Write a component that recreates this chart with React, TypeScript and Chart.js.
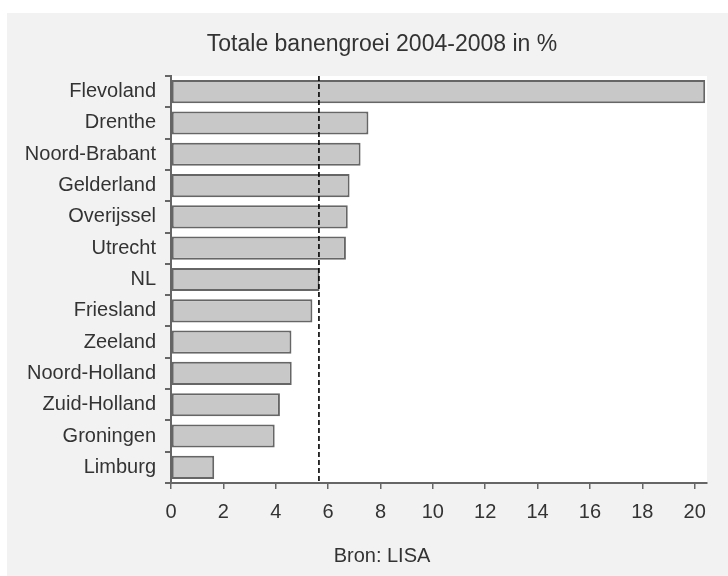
import React, { useEffect, useRef } from 'react';
import { Chart, registerables } from 'chart.js';

Chart.register(...registerables);

const categories = [
  'Flevoland',
  'Drenthe',
  'Noord-Brabant',
  'Gelderland',
  'Overijssel',
  'Utrecht',
  'NL',
  'Friesland',
  'Zeeland',
  'Noord-Holland',
  'Zuid-Holland',
  'Groningen',
  'Limburg',
];
const growth = [20.4, 7.54, 7.24, 6.82, 6.75, 6.68, 5.67, 5.4, 4.6, 4.61, 4.16, 3.96, 1.65];
const referenceValue = 5.65;
const xTicks = [0, 2, 4, 6, 8, 10, 12, 14, 16, 18, 20];
const xMax = 20.47;
const titleText = 'Totale banengroei 2004-2008 in %';
const sourceText = 'Bron: LISA';

const FONT = "'Liberation Sans', Arial, Helvetica, sans-serif";

const decorPlugin = {
  id: 'decor',
  beforeDraw(chart: any) {
    const { ctx, chartArea } = chart;
    ctx.save();
    ctx.fillStyle = '#ffffff';
    ctx.fillRect(0, 0, chart.width, chart.height);
    ctx.fillStyle = '#f2f2f2';
    ctx.fillRect(7, 13, chart.width - 7, chart.height - 13);
    ctx.fillStyle = '#ffffff';
    ctx.fillRect(chartArea.left, chartArea.top, chartArea.right - chartArea.left, chartArea.bottom - chartArea.top);
    ctx.restore();
  },
  afterDatasetsDraw(chart: any) {
    const { ctx, chartArea, scales } = chart;
    const x = scales.x.getPixelForValue(referenceValue);
    ctx.save();
    ctx.strokeStyle = '#000000';
    ctx.lineWidth = 1.6;
    ctx.setLineDash([5, 3]);
    ctx.beginPath();
    ctx.moveTo(x, chartArea.top);
    ctx.lineTo(x, chartArea.bottom);
    ctx.stroke();
    ctx.restore();
  },
  afterDraw(chart: any) {
    const { ctx } = chart;
    ctx.save();
    ctx.fillStyle = '#333333';
    ctx.textAlign = 'center';
    ctx.textBaseline = 'middle';
    ctx.font = `23px ${FONT}`;
    ctx.fillText(titleText, 382, 45);
    ctx.font = `20px ${FONT}`;
    ctx.fillText(sourceText, 382, 556);
    ctx.restore();
  },
};

export default function App() {
  const canvasRef = useRef<HTMLCanvasElement | null>(null);

  useEffect(() => {
    if (!canvasRef.current) return;
    const chart = new Chart(canvasRef.current, {
      type: 'bar',
      data: {
        labels: categories,
        datasets: [
          {
            data: growth,
            backgroundColor: '#c8c8c8',
            borderColor: '#666666',
            borderWidth: 2,
            borderSkipped: false,
            barPercentage: 0.74,
            categoryPercentage: 1,
          },
        ],
      },
      options: {
        indexAxis: 'y',
        responsive: false,
        animation: false,
        layout: { padding: { top: 76, right: 21, left: 0, bottom: 0 } },
        plugins: {
          legend: { display: false },
          title: { display: false },
          tooltip: { enabled: false },
        },
        scales: {
          y: {
            type: 'category',
            offset: true,
            afterFit: (s: any) => {
              s.width = 171;
            },
            grid: {
              offset: true,
              drawOnChartArea: false,
              tickLength: 6,
              color: '#666666',
              lineWidth: 2,
            },
            border: { color: '#666666', width: 2 },
            ticks: {
              padding: 9,
              color: '#333333',
              font: { family: FONT, size: 20 },
              autoSkip: false,
            },
          },
          x: {
            type: 'linear',
            min: 0,
            max: xMax,
            afterBuildTicks: (s: any) => {
              s.ticks = xTicks.map((v) => ({ value: v }));
            },
            afterFit: (s: any) => {
              s.height = 93;
            },
            grid: {
              drawOnChartArea: false,
              tickLength: 6,
              color: '#666666',
              lineWidth: 1.5,
            },
            border: { color: '#666666', width: 2 },
            ticks: {
              padding: 11,
              color: '#333333',
              font: { family: FONT, size: 20 },
              autoSkip: false,
              maxRotation: 0,
            },
          },
        },
      },
      plugins: [decorPlugin],
    });
    return () => chart.destroy();
  }, []);

  return (
    <div style={{ position: 'absolute', left: 0, top: 0, width: 728, height: 576 }}>
      <canvas ref={canvasRef} width={728} height={576} style={{ width: 728, height: 576, display: 'block' }} />
    </div>
  );
}
